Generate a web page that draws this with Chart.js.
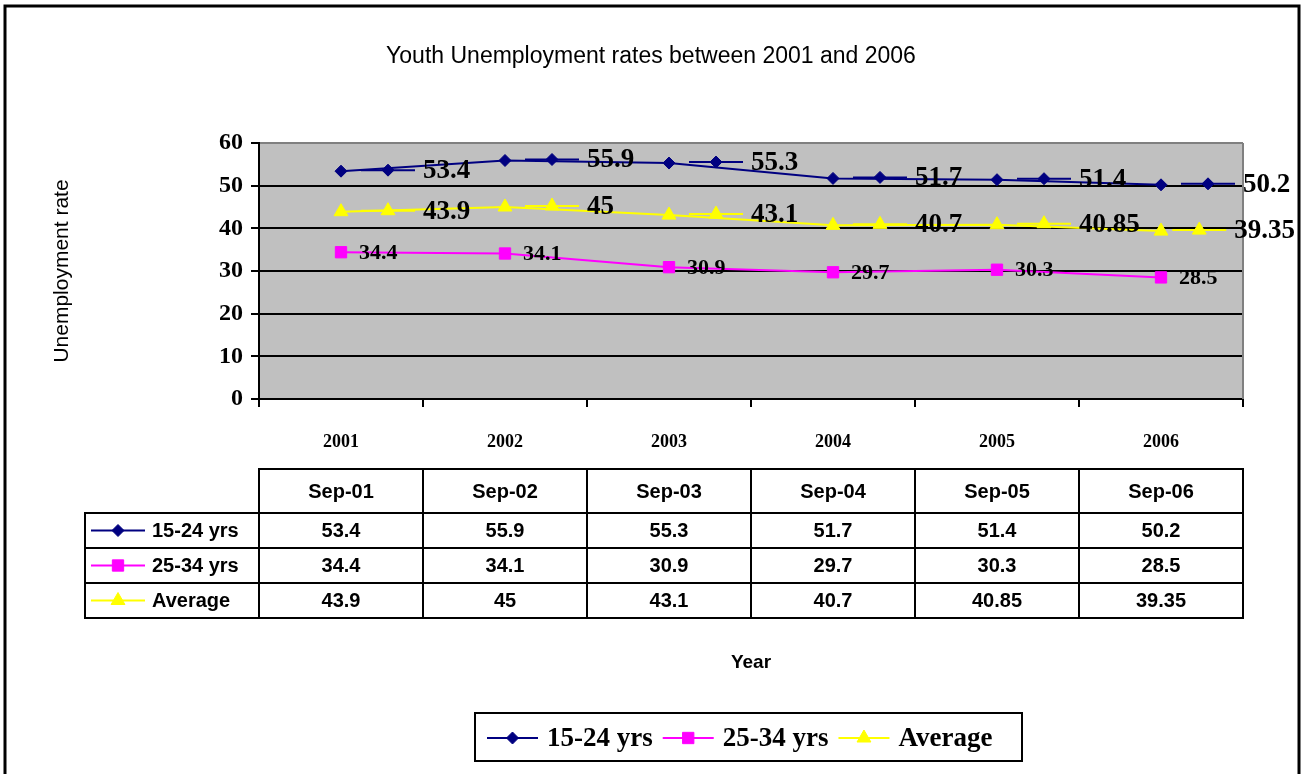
<!DOCTYPE html>
<html>
<head>
<meta charset="utf-8">
<script src="https://cdn.jsdelivr.net/npm/chart.js@4.4.1/dist/chart.umd.min.js"></script>
<style>
  body { margin: 0; background: #fff; }
</style>
</head>
<body>
<canvas id="chart" width="1303" height="774"></canvas>
<script>
    // data
    var years = ['2001', '2002', '2003', '2004', '2005', '2006'];
    var months = ['Sep-01', 'Sep-02', 'Sep-03', 'Sep-04', 'Sep-05', 'Sep-06'];
    var youth = [53.4, 55.9, 55.3, 51.7, 51.4, 50.2];
    var adults = [34.4, 34.1, 30.9, 29.7, 30.3, 28.5];
    var average = [43.9, 45, 43.1, 40.7, 40.85, 39.35];
    var yTicks = [0, 10, 20, 30, 40, 50, 60];
    var chartTitle = 'Youth Unemployment rates between 2001 and 2006';

    var serif = '"Liberation Serif", "Times New Roman", serif';
    var sans = '"Liberation Sans", Arial, sans-serif';

    // gray plot area + right border
    var plotBg = {
        id: 'plotBg',
        beforeDraw: function (chart) {
            var a = chart.chartArea, ctx = chart.ctx;
            ctx.save();
            ctx.fillStyle = '#c0c0c0';
            ctx.fillRect(a.left, a.top, a.right - a.left, a.bottom - a.top);
            ctx.restore();
        },
        beforeDatasetsDraw: function (chart) {
            var a = chart.chartArea, ctx = chart.ctx;
            ctx.save();
            ctx.strokeStyle = '#808080';
            ctx.lineWidth = 2;
            ctx.beginPath();
            ctx.moveTo(a.right, a.top);
            ctx.lineTo(a.right, a.bottom);
            ctx.stroke();
            ctx.restore();
        }
    };

    function drawKey(ctx, ds, x, y, len) {
        ctx.save();
        ctx.strokeStyle = ds.borderColor;
        ctx.lineWidth = 2;
        ctx.beginPath();
        ctx.moveTo(x, y);
        ctx.lineTo(x + len, y);
        ctx.stroke();
        ctx.fillStyle = ds.backgroundColor;
        ctx.lineWidth = 1;
        Chart.helpers.drawPoint(ctx, {
            pointStyle: ds.pointStyle, radius: ds.pointRadius, borderWidth: 1, rotation: 0
        }, x + len / 2, y);
        ctx.restore();
    }

    // Excel style data labels, some with a legend key in front
    var valueLabels = {
        id: 'valueLabels',
        afterDatasetsDraw: function (chart) {
            var ctx = chart.ctx;
            chart.data.datasets.forEach(function (ds, i) {
                var meta = chart.getDatasetMeta(i);
                ctx.save();
                ctx.font = ds.labelFont;
                ctx.fillStyle = '#000';
                ctx.textBaseline = 'middle';
                meta.data.forEach(function (pt, j) {
                    var txt = String(ds.data[j]);
                    var tw = ctx.measureText(txt).width;
                    if (ds.labelKey) {
                        var start = pt.x + 20;
                        var end = pt.x + 82 + tw;
                        if (end > 1295) start -= end - 1295;
                        drawKey(ctx, ds, start, pt.y - 1, 54);
                        ctx.fillText(txt, start + 62, pt.y);
                    } else {
                        ctx.fillText(txt, pt.x + 18, pt.y + 1);
                    }
                });
                ctx.restore();
            });
        }
    };

    // title, data table, legend box and outer frame
    var tableAndLegend = {
        id: 'tableAndLegend',
        afterDraw: function (chart) {
            var ctx = chart.ctx;
            var xs = chart.scales.x;
            var colW = (xs.right - xs.left) / years.length;
            var top = 469, headH = 44, rowH = 35, labelLeft = 85;
            var rows = [youth, adults, average];
            ctx.save();
            ctx.fillStyle = '#000';
            ctx.textAlign = 'center';
            ctx.textBaseline = 'middle';
            ctx.font = '23px ' + sans;
            ctx.fillText(chartTitle, 651, 57);

            ctx.strokeStyle = '#000';
            ctx.lineWidth = 2;
            ctx.font = 'bold 20px ' + sans;
            months.forEach(function (m, j) {
                var x0 = xs.left + j * colW;
                ctx.strokeRect(x0, top, colW, headH);
                ctx.fillText(m, x0 + colW / 2, top + headH / 2 + 1);
            });
            rows.forEach(function (vals, r) {
                var y0 = top + headH + r * rowH;
                ctx.strokeRect(labelLeft, y0, xs.left - labelLeft, rowH);
                vals.forEach(function (v, j) {
                    var x0 = xs.left + j * colW;
                    ctx.strokeRect(x0, y0, colW, rowH);
                    ctx.fillText(String(v), x0 + colW / 2, y0 + rowH / 2 + 1);
                });
                var ds = chart.data.datasets[r];
                drawKey(ctx, ds, labelLeft + 6, y0 + rowH / 2, 54);
                ctx.textAlign = 'left';
                ctx.fillText(ds.label, labelLeft + 67, y0 + rowH / 2 + 1);
                ctx.textAlign = 'center';
            });

            // legend
            ctx.strokeRect(475, 713, 547, 48);
            ctx.font = 'bold 27px ' + serif;
            ctx.textAlign = 'left';
            var lx = 487, ly = 738;
            chart.data.datasets.forEach(function (ds) {
                drawKey(ctx, ds, lx, ly, 51);
                ctx.fillText(ds.label, lx + 60, ly + 1);
                lx += 60 + ctx.measureText(ds.label).width + 10;
            });

            // outer frame
            ctx.lineWidth = 3;
            ctx.strokeRect(5, 6, 1294, 800);
            ctx.restore();
        }
    };

    new Chart(document.getElementById('chart'), {
        type: 'line',
        data: {
            labels: years,
            datasets: [{
                label: '15-24 yrs',
                data: youth,
                borderColor: '#000080',
                backgroundColor: '#000080',
                pointStyle: 'rectRot',
                pointRadius: 6,
                borderWidth: 2,
                pointBorderWidth: 1,
                labelKey: true,
                labelFont: 'bold 27px ' + serif
            }, {
                label: '25-34 yrs',
                data: adults,
                borderColor: '#ff00ff',
                backgroundColor: '#ff00ff',
                pointStyle: 'rect',
                pointRadius: 8,
                borderWidth: 2,
                pointBorderWidth: 1,
                labelKey: false,
                labelFont: 'bold 22px ' + serif
            }, {
                label: 'Average',
                data: average,
                borderColor: '#ffff00',
                backgroundColor: '#ffff00',
                pointStyle: 'triangle',
                pointRadius: 8,
                borderWidth: 2,
                pointBorderWidth: 1,
                labelKey: true,
                labelFont: 'bold 27px ' + serif
            }]
        },
        options: {
            responsive: false,
            devicePixelRatio: 1,
            animation: false,
            layout: { padding: { left: 0, right: 60, top: 143, bottom: 0 } },
            plugins: {
                legend: { display: false },
                tooltip: { enabled: false },
                title: { display: false }
            },
            scales: {
                x: {
                    offset: true,
                    grid: { offset: true, drawOnChartArea: false, tickLength: 8, color: '#000', lineWidth: 2 },
                    border: { color: '#000', width: 2 },
                    ticks: { padding: 25, color: '#000', font: { family: serif, size: 18, weight: 'bold' } },
                    title: {
                        display: true,
                        text: 'Year',
                        color: '#000',
                        font: { family: sans, size: 19, weight: 'bold' },
                        padding: { top: 0, bottom: 100 }
                    },
                    afterFit: function (s) { s.height = 375; }
                },
                y: {
                    min: 0,
                    max: 60,
                    afterBuildTicks: function (s) {
                        s.ticks = yTicks.map(function (v) { return { value: v }; });
                    },
                    grid: {
                        color: function (c) { return c.tick && c.tick.value === 60 ? '#808080' : '#000'; },
                        tickColor: '#000',
                        lineWidth: 2,
                        tickLength: 8
                    },
                    border: { color: '#000', width: 2 },
                    ticks: { padding: 8, color: '#000', font: { family: serif, size: 24, weight: 'bold' } },
                    title: {
                        display: true,
                        text: 'Unemployment rate',
                        color: '#000',
                        font: { family: sans, size: 21, weight: 'normal' },
                        padding: { top: 50, bottom: 0 }
                    },
                    afterFit: function (s) { s.width = 259; }
                }
            }
        },
        plugins: [plotBg, valueLabels, tableAndLegend]
    });
</script>
</body>
</html>
